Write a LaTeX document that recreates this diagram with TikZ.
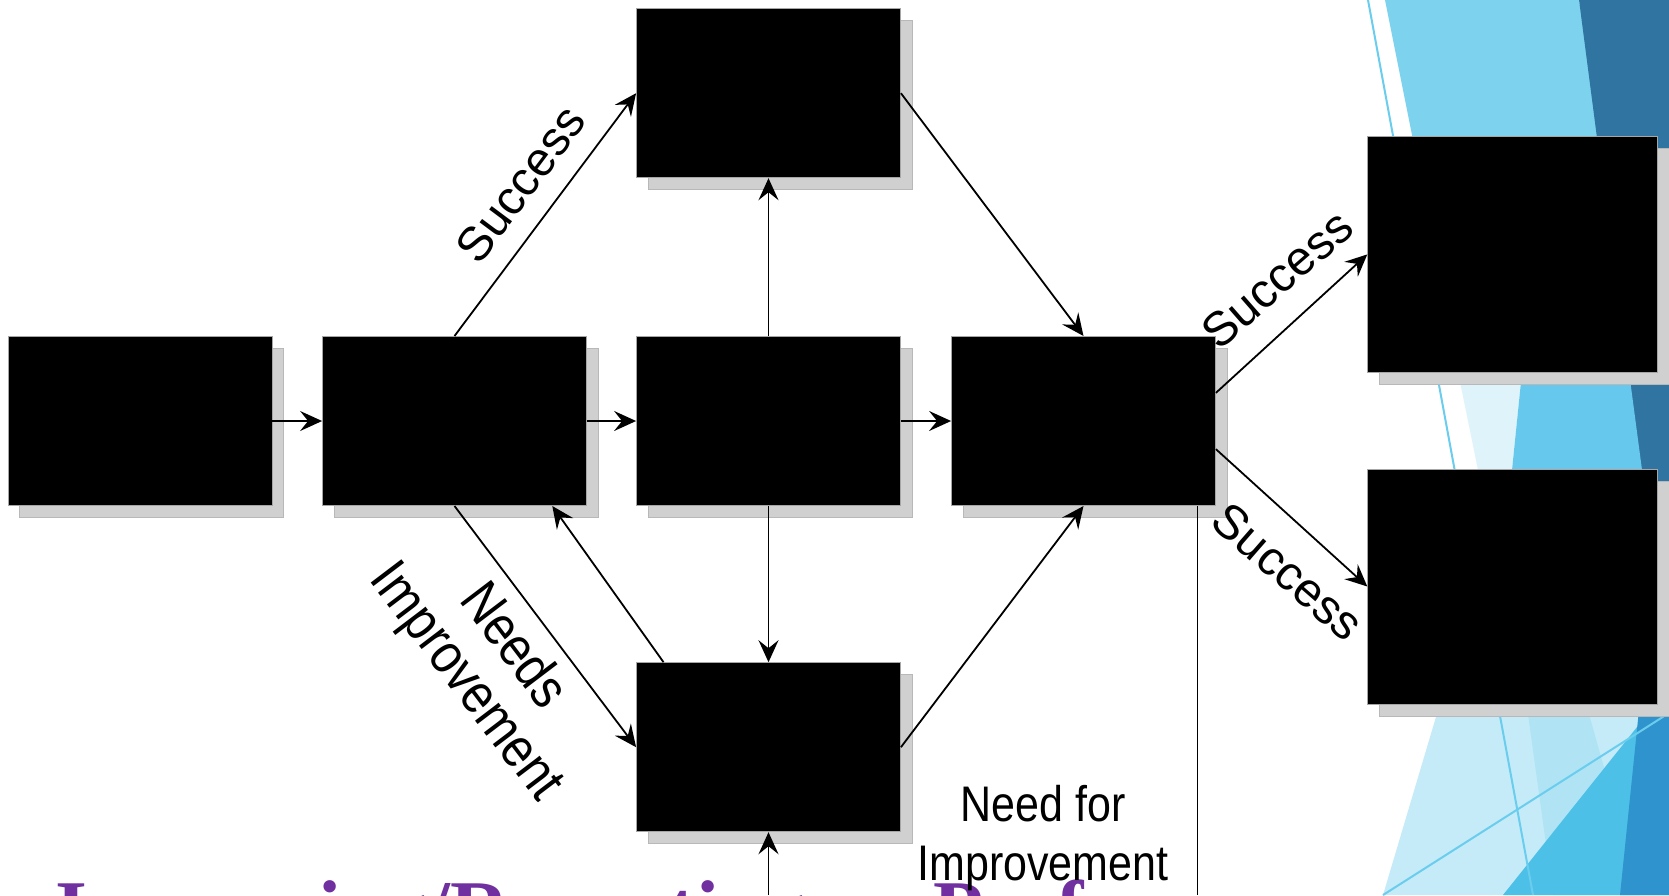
\documentclass[tikz,border=0pt]{standalone}
\usepackage{fontspec}
\setmainfont{Liberation Sans}
\newfontfamily\narrowsf[FakeStretch=0.86]{Liberation Sans}
\newfontfamily\titleserif{Liberation Serif}
\usetikzlibrary{arrows.meta,shadows}
\definecolor{titlepurple}{HTML}{7030A0}
\definecolor{shadowgray}{HTML}{D0D0D0}
\definecolor{shadowedge}{HTML}{B8B8B8}
\definecolor{facetlight}{HTML}{7DD2EE}
\definecolor{facetdark}{HTML}{3074A2}
\definecolor{facetpale}{HTML}{DFF3FB}
\definecolor{facetmid}{HTML}{66C8EC}
\definecolor{faceticy}{HTML}{C5EBF8}
\definecolor{facetsky}{HTML}{B0E4F5}
\definecolor{facetcyan}{HTML}{4DC0E8}
\definecolor{facetblue}{HTML}{2F93CD}
\definecolor{facetline}{HTML}{6ACDEE}

\begin{document}
\begin{tikzpicture}[x=0.5pt,y=-0.5pt,
  box/.style={draw=gray!70, line width=0.4pt, fill=black, inner sep=0pt,
    minimum width=132pt, minimum height=84.6pt,
    general shadow={shadow xshift=5.8pt, shadow yshift=-6pt, fill=shadowgray, draw=shadowedge}},
  bigbox/.style={box, minimum width=144.8pt, minimum height=117.6pt},
  arr/.style={-{Stealth[length=11pt,width=10pt,inset=4pt]}, line width=0.9pt},
  lbl/.style={inner sep=0pt, font=\fontsize{24}{28}\selectfont},
  narrow/.style={inner sep=0pt, align=center}]
\useasboundingbox (0,0) rectangle (1669,895);
\clip (0,0) rectangle (1669,895);
\fill[white] (0,0) rectangle (1669,895);

% slide background on the right
\fill[facetlight] (1385,0) -- (1579,0) -- (1640,380) -- (1461,380) -- cycle;
\fill[facetdark] (1579,0) -- (1669,0) -- (1669,690) -- cycle;
\fill[facetpale] (1458,372) -- (1522,372) -- (1512,470) -- (1478,470) -- cycle;
\fill[facetmid] (1522,372) -- (1629,372) -- (1642,470) -- (1512,470) -- cycle;
\fill[faceticy] (1441,700) -- (1669,700) -- (1669,895) -- (1383,895) -- cycle;
\fill[facetsky] (1526,700) -- (1585,700) -- (1640,895) -- (1553,895) -- cycle;
\fill[facetcyan] (1503,895) -- (1645,717) -- (1669,705) -- (1669,895) -- cycle;
\fill[facetblue] (1640,700) -- (1669,700) -- (1669,895) -- (1620,895) -- cycle;
\draw[facetline, line width=1pt] (1368,0) -- (1533,895);
\draw[facetline, line width=1pt] (1383,895) -- (1669,713);

% title, cut by the page
\node[anchor=base west, inner sep=0pt, text=titlepurple,
  font=\titleserif\bfseries\fontsize{41}{41}\selectfont] (title) at (55,937)
  {Improving/Reporting on Performance};

% boxes
\node[box] (start) at (140,421) {};
\node[box] (split) at (454.5,421) {};
\node[box] (hub) at (768.5,421) {};
\node[box] (join) at (1083.5,421) {};
\node[box] (up) at (768.5,93.2) {};
\node[box] (down) at (768.5,747.2) {};
\node[bigbox] (outA) at (1512.5,254.4) {};
\node[bigbox] (outB) at (1512.5,586.5) {};

% connectors
\draw[arr] (start) -- (split);
\draw[arr] (split) -- (hub);
\draw[arr] (hub) -- (join);
\draw[arr] (split.north) -- (up.west);
\draw[arr] (up.east) -- (join.north);
\draw[arr] (hub.north) -- (up.south);
\draw[arr] (hub.south) -- (down.north);
\draw[arr] (split.south) -- (down.west);
\draw[arr] (down.141) -- (split.-41.5);
\draw[arr] (down.east) -- (join.south);
\coordinate (loopin) at (768.5,895);
\draw[arr] (loopin) -- (down.south);
\coordinate (loopout) at (1197.5,895);
\draw[line width=0.9pt] (join.south -| loopout) -- (loopout);
\draw[arr] (join.12) -- (outA.west);
\draw[arr] (join.-12) -- (outB.west);

% labels
\node[lbl, rotate=53.2] (succup) at (520.5,184) {Success};
\node[narrow, rotate=-52.8, font=\narrowsf\fontsize{28}{29.5}\selectfont] (needsimp) at (488.5,665) {Needs\\Improvement};
\node[lbl, rotate=41.1] (succhi) at (1277,279) {Success};
\node[lbl, rotate=-41.1] (succlo) at (1288,571.6) {Success};
\node[narrow, font=\narrowsf\fontsize{25}{29.25}\selectfont] (needfor) at (1043,838) {Need for\\Improvement};
\end{tikzpicture}
\end{document}
